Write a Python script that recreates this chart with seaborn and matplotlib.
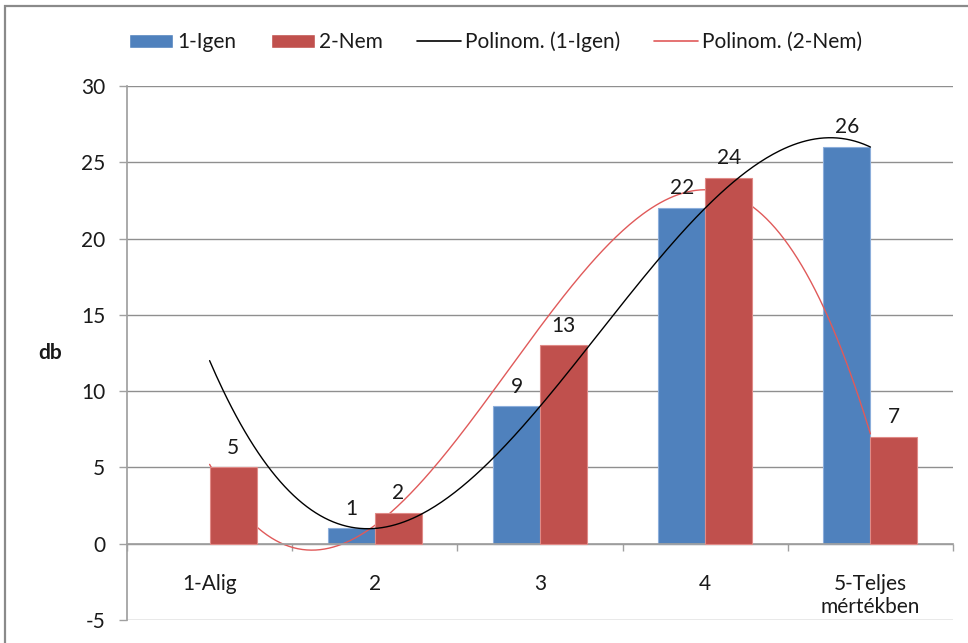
import numpy as np
import pandas as pd
import seaborn as sns
import matplotlib
matplotlib.use("Agg")
import matplotlib.pyplot as plt
from matplotlib.patches import Rectangle, Patch
from matplotlib.lines import Line2D

# ---- data ----
categories = ["1-Alig", "2", "3", "4", "5-Teljes\nmértékben"]
series_names = ["1-Igen", "2-Nem"]
igen = [np.nan, 1, 9, 22, 26]   # blank cell for 1-Alig
nem = [5, 2, 13, 24, 7]
trend_names = ["Polinom. (1-Igen)", "Polinom. (2-Nem)"]
y_ticks = [-5, 0, 5, 10, 15, 20, 25, 30]
y_label = "db"

bar_colors = ["#4F81BD", "#C0504D"]
bar_edges = ["#8CAEDB", "#E08A87"]
bar_z = [2, 3]
trend_colors = ["#000000", "#E05A5A"]
trend_z = [4, 2.5]

sns.set_theme(style="white")
plt.rcParams["font.family"] = ["Lato", "DejaVu Sans"]
FS = 15
TXT = "#1a1a1a"
GRID = "#8f8f8f"
AXC = "#a0a0a0"

W, H = 968, 643
fig = plt.figure(figsize=(W / 100, H / 100), dpi=100)
ax = fig.add_axes([127 / W, 1 - 620 / H, (953 - 127) / W, (620 - 86) / H])

df = pd.DataFrame({
    "cat": categories * 2,
    "series": [s for s in series_names for _ in categories],
    "val": igen + nem,
})
sns.barplot(data=df, x="cat", y="val", hue="series", hue_order=series_names,
            order=categories, palette=bar_colors, width=0.57, saturation=1,
            errorbar=None, legend=False, ax=ax, linewidth=0)

# bar styling + data labels
for cont, ec, z in zip(ax.containers, bar_edges, bar_z):
    labels = []
    for b in cont:
        b.set_edgecolor(ec)
        b.set_linewidth(0.8)
        b.set_zorder(z)
        h = b.get_height()
        labels.append(f"{h:g}" if np.isfinite(h) and b.get_width() > 0 else "")
    ax.bar_label(cont, labels=labels, padding=7, fontsize=FS, color=TXT)

# polynomial (order 3) trendlines
x = np.arange(len(categories))
xs = np.linspace(0, len(categories) - 1, 300)
for vals, col, z in zip([igen, nem], trend_colors, trend_z):
    arr = np.asarray(vals, dtype=float)
    m = np.isfinite(arr)
    coef = np.polyfit(x[m], arr[m], 3)
    ax.plot(xs, np.polyval(coef, xs), color=col, lw=1.0, zorder=z)

# axes styling
ax.set_ylim(y_ticks[0], y_ticks[-1])
ax.set_xlim(-0.5, len(categories) - 0.5)
ax.set_yticks(y_ticks)
ax.set_yticklabels([str(t) for t in y_ticks])
ax.set_axisbelow(True)
ax.yaxis.grid(True, color=GRID, lw=1, zorder=0.5)
ax.xaxis.grid(False)
for s in ["top", "right"]:
    ax.spines[s].set_visible(False)
ax.spines["left"].set_color(AXC)
ax.spines["bottom"].set_color(AXC)
ax.spines["bottom"].set_position(("data", 0))

bounds = np.arange(-0.5, len(categories), 1.0)
ax.set_xticks(bounds)
ax.set_xticklabels([""] * len(bounds))
ax.set_xticks(x, minor=True)
ax.set_xticklabels(categories, minor=True)
ax.tick_params(axis="x", which="major", length=5, width=1, color=AXC, direction="out", bottom=True)
ax.tick_params(axis="x", which="minor", length=0, pad=22, labelsize=FS, labelcolor=TXT, bottom=True)
ax.tick_params(axis="y", which="major", length=5.8, width=1, color=AXC, direction="out",
               pad=10, labelsize=FS, labelcolor=TXT, left=True)
ax.set_xlabel("")
ax.set_ylabel(y_label, rotation=0, fontsize=FS, fontweight="bold", color=TXT,
              ha="center", va="center")
ax.yaxis.set_label_coords((50 - 127) / (953 - 127), 0.5)

# legend
handles = [Patch(facecolor=bar_colors[0]), Patch(facecolor=bar_colors[1]),
           Line2D([], [], color=trend_colors[0], lw=1.2),
           Line2D([], [], color=trend_colors[1], lw=1.2)]
fig.legend(handles, series_names + trend_names, loc="center",
           bbox_to_anchor=(496 / W, 1 - 42 / H), ncol=4, frameon=False,
           fontsize=FS, handlelength=2.1, handleheight=0.6,
           handletextpad=0.2, columnspacing=1.65, labelcolor=TXT)

# chart-area border
fig.patches.append(Rectangle((5 / W, -0.1), 1.2, 1.1 - 6 / H,
                             transform=fig.transFigure, fill=False,
                             edgecolor="#8a8a8a", lw=1.6, zorder=10))

fig.savefig("out.png", dpi=100)
